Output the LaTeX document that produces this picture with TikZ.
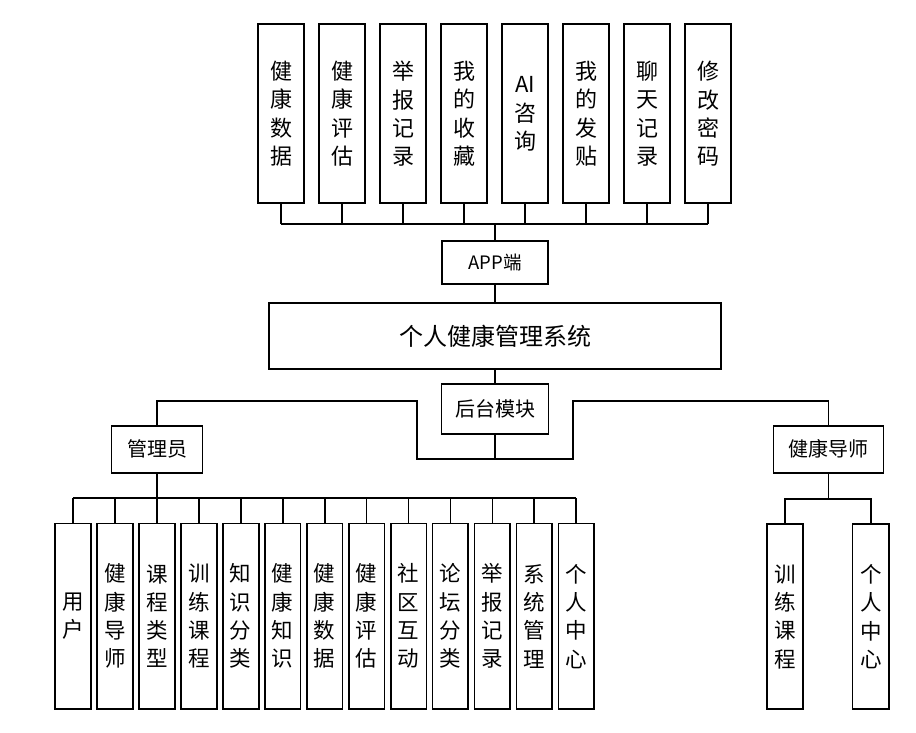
\documentclass[tikz,border=0pt]{standalone}
\usepackage{fontspec}
\setmainfont{Noto Sans CJK SC}
\begin{document}
\begin{tikzpicture}[x=1pt,y=-1pt,line join=miter,
  box/.style={draw,line width=1.8pt,fill=white,inner sep=0pt,align=center},
  topbox/.style={box,minimum width=46.7pt,minimum height=179pt,font=\fontsize{22}{28.3}\selectfont},
  lowbox/.style={box,minimum width=35.8pt,minimum height=185.5pt,font=\fontsize{21.5}{28.3}\selectfont},
  headbox/.style={box,minimum height=47pt,font=\fontsize{20}{24}\selectfont},
  wire/.style={line width=1.8pt}]
  \useasboundingbox (0,0) rectangle (916,733);
  % APP side
  \foreach \i/\t in {1/健\\康\\数\\据,2/健\\康\\评\\估,3/举\\报\\记\\录,4/我\\的\\收\\藏,
                     5/AI\\咨\\询,6/我\\的\\发\\贴,7/聊\\天\\记\\录,8/修\\改\\密\\码}
    \node[topbox] (t\i) at ({281+61*(\i-1)},113.8) {\t};
  \node[headbox,minimum width=106.6pt,minimum height=43pt,font=\fontsize{18.5}{22}\selectfont] (app) at (495,262.5) {APP端};
  \node[box,minimum width=451.4pt,minimum height=66pt,font=\fontsize{24}{28}\selectfont] (sys) at (495,336.3) {个人健康管理系统};
  \node[headbox,minimum width=107pt,minimum height=50.6pt] (back) at (495,409) {后台模块};
  \coordinate (tbus) at (495,224);
  \foreach \i in {1,...,8}
    \draw[wire] (t\i.south) -- (t\i.south |- tbus);
  \draw[wire] (t1.south |- tbus) -- (t8.south |- tbus);
  \draw[wire] (tbus) -- (app.north);
  \draw[wire] (app.south) -- (sys.north);
  \draw[wire] (sys.south) -- (back.north);
  % roles
  \node[headbox,minimum width=91pt] (admin) at (157,449.2) {管理员};
  \node[headbox,minimum width=110pt] (coach) at (828.4,449.2) {健康导师};
  \coordinate (hl) at (417,401);
  \coordinate (hr) at (573.3,401);
  \coordinate (bl) at (417,459);
  \coordinate (br) at (573.3,459);
  \draw[wire] (back.south) -- (back.south |- bl);
  \draw[wire] (admin.north) |- (hl) -- (bl) -- (br) -- (hr) -| (coach.north);
  % admin modules
  \foreach \i/\t in {1/用\\户,2/健\\康\\导\\师,3/课\\程\\类\\型,4/训\\练\\课\\程,5/知\\识\\分\\类,
                     6/健\\康\\知\\识,7/健\\康\\数\\据,8/健\\康\\评\\估,9/社\\区\\互\\动,
                     10/论\\坛\\分\\类,11/举\\报\\记\\录,12/系\\统\\管\\理,13/个\\人\\中\\心}
    \node[lowbox] (a\i) at ({72.9+41.95*(\i-1)},616.2) {\t};
  \coordinate (abus) at (157,498);
  \foreach \i in {1,...,13}
    \draw[wire] (a\i.north) -- (a\i.north |- abus);
  \draw[wire] (a1.north |- abus) -- (a13.north |- abus);
  \draw[wire] (admin.south) -- (abus);
  % coach modules
  \node[lowbox,minimum width=36.5pt] (c1) at (784.9,616.6) {训\\练\\课\\程};
  \node[lowbox,minimum width=36.5pt] (c2) at (870.8,616.6) {个\\人\\中\\心};
  \coordinate (cbus) at (828.4,499);
  \draw[wire] (coach.south) -- (cbus);
  \draw[wire] (c1.north) |- (cbus) -| (c2.north);
\end{tikzpicture}
\end{document}
